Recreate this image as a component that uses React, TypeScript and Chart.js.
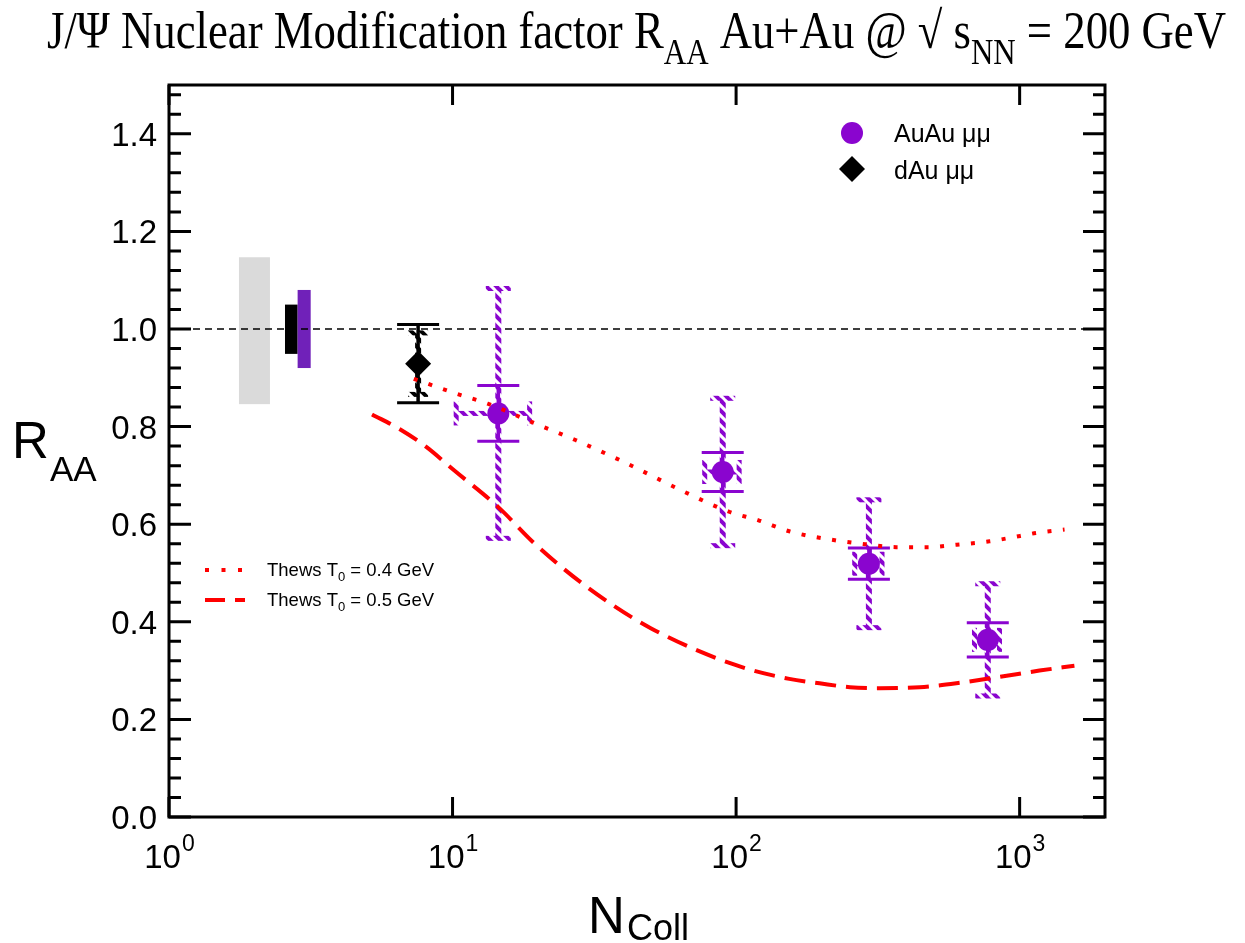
import React, { useEffect, useRef } from "react";
import { Chart, registerables } from "chart.js";
Chart.register(...registerables);

// ---- data ----
const auauNcoll = [14.5, 89.7, 294, 772];
const auauRaa = [0.827, 0.707, 0.519, 0.363];
const auauStat = [0.057, 0.04, 0.032, 0.035];
const auauSyst = [0.256, 0.151, 0.131, 0.115];
const auauNcollLo = [10.3, 77.5, 262, 693];
const auauNcollHi = [18.7, 102.5, 327, 849];

const dauNcoll = [7.56];
const dauRaa = [0.929];
const dauStat = [0.08];
const dauSyst = [0.063];

const normGrayX = [1.765, 2.27];
const normGrayY = [0.846, 1.147];
const normBlackX = [2.565, 2.842];
const normBlackY = [0.949, 1.05];
const normPurpleX = [2.842, 3.16];
const normPurpleY = [0.92, 1.08];

const thews04N = [7.3, 10, 13.3, 20, 27, 40, 67, 95, 120, 155, 223, 286, 367, 472, 600, 783, 1005, 1140, 1440];
const thews04R = [0.898, 0.87, 0.847, 0.804, 0.773, 0.728, 0.664, 0.625, 0.608, 0.585, 0.567, 0.559, 0.553, 0.553, 0.558, 0.565, 0.576, 0.582, 0.589];

const thews05N = [5.2, 6.5, 8.1, 10, 14.5, 19.5, 30, 50, 100, 154, 197, 252, 321, 444, 614, 849, 1175, 1560];
const thews05R = [0.825, 0.795, 0.758, 0.713, 0.635, 0.56, 0.47, 0.387, 0.311, 0.283, 0.274, 0.266, 0.264, 0.266, 0.275, 0.287, 0.3, 0.31];

const yTickValues = [0, 0.2, 0.4, 0.6, 0.8, 1.0, 1.2, 1.4];
const xTickValues = [1, 10, 100, 1000];
const xTickExponents = ["0", "1", "2", "3"];

const legendLabels = ["AuAu \u03bc\u03bc", "dAu \u03bc\u03bc"];
const curveLabels = ["0.4", "0.5"];

const PURPLE = "#8a05cf";
const PURPLE_BOX = "#7021b9";
const RED = "#ff0000";
const SANS = "'Liberation Sans', Arial, sans-serif";
const SERIF = "'Liberation Serif', 'Times New Roman', serif";

function makeHatch(color: string) {
  const c = document.createElement("canvas");
  c.width = 10;
  c.height = 10;
  const g = c.getContext("2d")!;
  g.strokeStyle = color;
  g.lineWidth = 4;
  g.lineCap = "butt";
  for (const k of [-10, 0, 10]) {
    g.beginPath();
    g.moveTo(k - 2, -2);
    g.lineTo(k + 12, 12);
    g.stroke();
  }
  return c;
}

export default function App() {
  const ref = useRef<HTMLCanvasElement | null>(null);

  useEffect(() => {
    const canvas = ref.current!;
    const purpleHatchCanvas = makeHatch(PURPLE);
    const blackHatchCanvas = makeHatch("#000000");

    const plugin = {
      id: "custom",
      beforeDatasetsDraw(chart: any) {
        const ctx: CanvasRenderingContext2D = chart.ctx;
        const xs = chart.scales.x;
        const ys = chart.scales.y;
        const px = (v: number) => xs.getPixelForValue(v);
        const py = (v: number) => ys.getPixelForValue(v);
        const pHatch = ctx.createPattern(purpleHatchCanvas, "repeat")!;
        const kHatch = ctx.createPattern(blackHatchCanvas, "repeat")!;

        ctx.save();
        const box = (bx: number[], by: number[], col: string) => {
          ctx.fillStyle = col;
          ctx.fillRect(px(bx[0]), py(by[1]), px(bx[1]) - px(bx[0]), py(by[0]) - py(by[1]));
        };
        box(normGrayX, normGrayY, "#dadada");
        box(normBlackX, normBlackY, "#000000");
        box(normPurpleX, normPurpleY, PURPLE_BOX);

        ctx.strokeStyle = "#000";
        ctx.lineWidth = 1.5;
        ctx.setLineDash([7, 5]);
        ctx.beginPath();
        ctx.moveTo(chart.chartArea.left, py(1));
        ctx.lineTo(chart.chartArea.right, py(1));
        ctx.stroke();
        ctx.setLineDash([]);

        const drawErr = (
          xv: number, yv: number, stat: number, syst: number,
          hatch: CanvasPattern, col: string, sysCapW: number,
          xlo?: number, xhi?: number
        ) => {
          const x = px(xv);
          const y = py(yv);
          const yt = py(yv + syst);
          const yb = py(yv - syst);
          ctx.fillStyle = hatch;
          ctx.fillRect(x - 3, yt, 6, yb - yt);
          ctx.fillRect(x - sysCapW / 2, yt - 2.5, sysCapW, 5);
          ctx.fillRect(x - sysCapW / 2, yb - 2.5, sysCapW, 5);
          if (xlo !== undefined && xhi !== undefined) {
            const xl = px(xlo);
            const xh = px(xhi);
            ctx.fillRect(xl, y - 2.5, xh - xl, 5);
            ctx.fillRect(xl - 2.5, y - 12, 5, 24);
            ctx.fillRect(xh - 2.5, y - 12, 5, 24);
          }
          const st = py(yv + stat);
          const sb = py(yv - stat);
          ctx.strokeStyle = col;
          ctx.lineWidth = 3.5;
          ctx.beginPath();
          ctx.moveTo(x, st);
          ctx.lineTo(x, sb);
          ctx.stroke();
          ctx.lineWidth = 3;
          ctx.beginPath();
          ctx.moveTo(x - 21, st);
          ctx.lineTo(x + 21, st);
          ctx.moveTo(x - 21, sb);
          ctx.lineTo(x + 21, sb);
          ctx.stroke();
        };

        for (let i = 0; i < dauNcoll.length; i++) {
          drawErr(dauNcoll[i], dauRaa[i], dauStat[i], dauSyst[i], kHatch, "#000", 20);
        }
        for (let i = 0; i < auauNcoll.length; i++) {
          drawErr(auauNcoll[i], auauRaa[i], auauStat[i], auauSyst[i], pHatch, PURPLE, 25, auauNcollLo[i], auauNcollHi[i]);
        }
        ctx.restore();
      },
      afterDraw(chart: any) {
        const ctx: CanvasRenderingContext2D = chart.ctx;
        const xs = chart.scales.x;
        const ys = chart.scales.y;
        const { left, right, top, bottom } = chart.chartArea;
        ctx.save();
        ctx.strokeStyle = "#000";
        ctx.lineWidth = 3;
        ctx.setLineDash([]);
        ctx.strokeRect(left, top, right - left, bottom - top);

        ctx.lineWidth = 3;
        ctx.beginPath();
        for (let k = 0; k <= 37; k++) {
          const v = k * 0.04;
          const yy = ys.getPixelForValue(v);
          const len = k % 5 === 0 ? 22 : 12;
          ctx.moveTo(left, yy);
          ctx.lineTo(left + len, yy);
          ctx.moveTo(right, yy);
          ctx.lineTo(right - len, yy);
        }
        for (const v of xTickValues) {
          const xx = xs.getPixelForValue(v);
          ctx.moveTo(xx, bottom);
          ctx.lineTo(xx, bottom - 20);
          ctx.moveTo(xx, top);
          ctx.lineTo(xx, top + 20);
        }
        ctx.stroke();

        ctx.fillStyle = "#000";
        ctx.font = `33px ${SANS}`;
        ctx.textAlign = "right";
        ctx.textBaseline = "alphabetic";
        for (const v of yTickValues) {
          ctx.fillText(v.toFixed(1), 157, ys.getPixelForValue(v) + 12);
        }
        ctx.textAlign = "left";
        xTickValues.forEach((v, i) => {
          const xx = xs.getPixelForValue(v);
          ctx.font = `33px ${SANS}`;
          const w1 = ctx.measureText("10").width;
          ctx.font = `23px ${SANS}`;
          const w2 = ctx.measureText(xTickExponents[i]).width;
          const x0 = xx - (w1 + w2) / 2;
          ctx.font = `33px ${SANS}`;
          ctx.fillText("10", x0, 868);
          ctx.font = `23px ${SANS}`;
          ctx.fillText(xTickExponents[i], x0 + w1 + 1, 851);
        });

        ctx.font = `51px ${SANS}`;
        ctx.fillText("R", 12, 458);
        ctx.font = `35px ${SANS}`;
        ctx.fillText("AA", 50, 481);
        ctx.font = `51px ${SANS}`;
        ctx.fillText("N", 588, 933);
        ctx.font = `36px ${SANS}`;
        ctx.fillText("Coll", 627, 940);

        const segs = [
          { t: "J/\u03a8 Nuclear Modification factor R", sub: false },
          { t: "AA", sub: true },
          { t: " Au+Au @ \u221a s", sub: false },
          { t: "NN", sub: true },
          { t: " = 200 GeV", sub: false },
        ];
        const mainF = `52px ${SERIF}`;
        const subF = `36px ${SERIF}`;
        let W = 0;
        for (const s of segs) {
          ctx.font = s.sub ? subF : mainF;
          W += ctx.measureText(s.t).width;
        }
        const sx = 1179 / W;
        ctx.save();
        ctx.translate(47, 0);
        ctx.scale(sx, 1);
        let cx = 0;
        for (const s of segs) {
          ctx.font = s.sub ? subF : mainF;
          ctx.fillText(s.t, cx, s.sub ? 64 : 48);
          cx += ctx.measureText(s.t).width;
        }
        ctx.restore();

        ctx.fillStyle = PURPLE;
        ctx.beginPath();
        ctx.arc(852, 133, 11, 0, Math.PI * 2);
        ctx.fill();
        ctx.fillStyle = "#000";
        ctx.beginPath();
        ctx.moveTo(852, 169 - 13);
        ctx.lineTo(852 + 13, 169);
        ctx.lineTo(852, 169 + 13);
        ctx.lineTo(852 - 13, 169);
        ctx.closePath();
        ctx.fill();
        ctx.font = `25px ${SANS}`;
        ctx.fillText(legendLabels[0], 894, 142);
        ctx.fillText(legendLabels[1], 894, 179);

        const curveY = [570, 600];
        ctx.strokeStyle = RED;
        ctx.lineWidth = 4;
        ctx.lineCap = "butt";
        ctx.setLineDash([4, 12.5]);
        ctx.beginPath();
        ctx.moveTo(205, curveY[0]);
        ctx.lineTo(245, curveY[0]);
        ctx.stroke();
        ctx.setLineDash([20, 10]);
        ctx.beginPath();
        ctx.moveTo(205, curveY[1]);
        ctx.lineTo(245, curveY[1]);
        ctx.stroke();
        ctx.setLineDash([]);
        ctx.fillStyle = "#000";
        curveLabels.forEach((lab, i) => {
          const by = curveY[i] + 6;
          let x0 = 267;
          ctx.font = `18.5px ${SANS}`;
          ctx.fillText("Thews T", x0, by);
          x0 += ctx.measureText("Thews T").width;
          ctx.font = `13px ${SANS}`;
          ctx.fillText("0", x0, by + 5);
          x0 += ctx.measureText("0").width;
          ctx.font = `18.5px ${SANS}`;
          ctx.fillText(` = ${lab} GeV`, x0, by);
        });
        ctx.restore();
      },
    };

    const chart = new Chart(canvas, {
      type: "scatter",
      data: {
        datasets: [
          {
            label: "Thews T0 = 0.4 GeV",
            data: thews04N.map((n, i) => ({ x: n, y: thews04R[i] })),
            showLine: true,
            borderColor: RED,
            borderWidth: 4,
            borderDash: [4, 11.5],
            pointRadius: 0,
            cubicInterpolationMode: "monotone",
            order: 0,
          } as any,
          {
            label: "Thews T0 = 0.5 GeV",
            data: thews05N.map((n, i) => ({ x: n, y: thews05R[i] })),
            showLine: true,
            borderColor: RED,
            borderWidth: 4,
            borderDash: [21, 10],
            pointRadius: 0,
            cubicInterpolationMode: "monotone",
            order: 0,
          } as any,
          {
            label: legendLabels[0],
            data: auauNcoll.map((n, i) => ({ x: n, y: auauRaa[i] })),
            backgroundColor: PURPLE,
            borderColor: PURPLE,
            borderWidth: 0,
            pointRadius: 11,
            pointStyle: "circle",
            order: 1,
          },
          {
            label: legendLabels[1],
            data: dauNcoll.map((n, i) => ({ x: n, y: dauRaa[i] })),
            backgroundColor: "#000",
            borderColor: "#000",
            borderWidth: 0,
            pointRadius: 13,
            pointStyle: "rectRot",
            order: 1,
          },
        ],
      },
      options: {
        responsive: false,
        animation: false,
        devicePixelRatio: 1,
        layout: { padding: { left: 169, top: 85, right: 140, bottom: 126 } },
        scales: {
          x: { type: "logarithmic", min: 1, max: 2000, display: false },
          y: { type: "linear", min: 0, max: 1.5, display: false },
        },
        plugins: { legend: { display: false }, tooltip: { enabled: false }, title: { display: false } },
      },
      plugins: [plugin],
    });
    return () => chart.destroy();
  }, []);

  return (
    <div style={{ position: "absolute", left: 0, top: 0, width: 1245, height: 943, background: "#fff" }}>
      <canvas ref={ref} width={1245} height={943} style={{ display: "block", width: 1245, height: 943 }} />
    </div>
  );
}
